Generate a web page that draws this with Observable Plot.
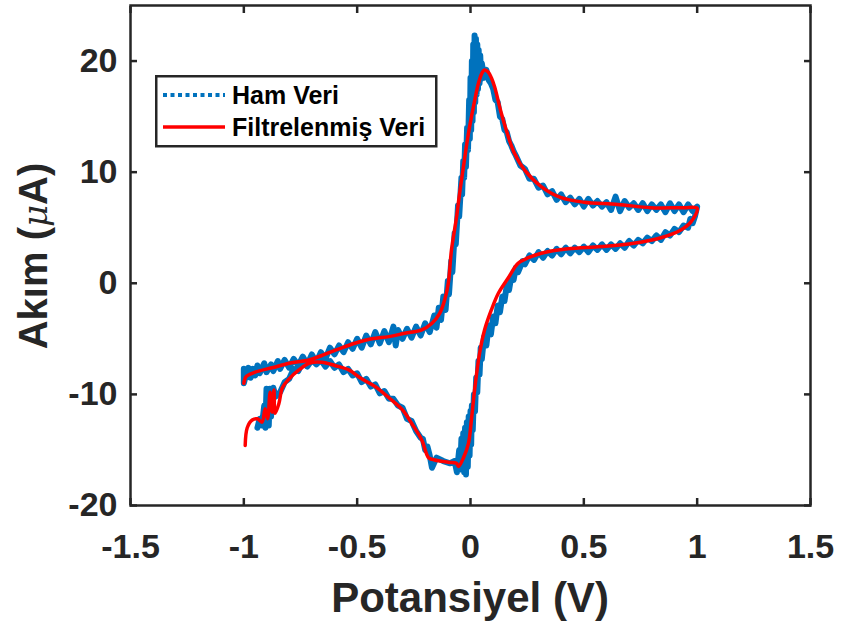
<!DOCTYPE html>
<html><head><meta charset="utf-8">
<script src="https://cdn.jsdelivr.net/npm/d3@7"></script>
<script src="https://cdn.jsdelivr.net/npm/@observablehq/plot@0.6"></script>
<style>
body{margin:0;background:#fff;}
#wrap{position:relative;width:845px;height:626px;}
#legend{position:absolute;left:155px;top:75px;}
</style></head><body><div id="wrap"><div id="legend"></div></div>
<script>
// Raw (noisy) data, in sweep order: potential (V) and current (µA)
const rawForwardV = [-1.00,-1.00,-0.99,-0.98,-0.97,-0.96,-0.95,-0.94,-0.93,-0.91,-0.90,-0.88,-0.87,-0.85,-0.84,-0.82,-0.80,-0.78,-0.76,-0.74,-0.72,-0.70,-0.68,-0.66,-0.64,-0.62,-0.60,-0.58,-0.56,-0.54,-0.52,-0.50,-0.48,-0.46,-0.44,-0.42,-0.40,-0.38,-0.36,-0.34,-0.33,-0.32,-0.30,-0.28,-0.26,-0.24,-0.22,-0.20,-0.18,-0.16,-0.15,-0.14,-0.13,-0.12,-0.11,-0.10,-0.095,-0.085,-0.08,-0.07,-0.065,-0.055,-0.05];
const rawForwardI = [-7.7,-9.0,-8.2,-7.6,-8.5,-7.7,-8.3,-7.4,-8.1,-7.2,-8.0,-7.3,-7.9,-7.0,-7.7,-6.9,-7.6,-6.8,-7.4,-6.6,-7.3,-6.4,-7.1,-6.2,-6.8,-5.8,-6.4,-5.6,-6.2,-5.3,-5.9,-5.0,-5.8,-4.7,-5.5,-4.4,-5.4,-4.3,-5.3,-3.9,-5.6,-4.2,-5.0,-4.1,-4.9,-3.9,-4.7,-3.6,-4.4,-2.9,-4.0,-2.2,-3.3,-1.2,-2.4,0.2,-1.0,2.0,1.0,4.5,3.5,7.0,6.0];
const rawAnodicV = [-0.04,-0.037,-0.032,-0.028,-0.024,-0.02,-0.015,-0.011,-0.006,-0.003,0.0,0.003,0.006,0.009,0.012,0.015,0.018,0.021,0.024,0.027,0.03,0.033,0.036,0.04,0.043,0.047,0.05,0.06];
const rawAnodicI = [9.5,8.0,11.0,9.5,12.5,10.5,14.0,12.0,16.5,13.0,18.5,13.8,20.0,14.6,21.5,15.4,22.3,16.3,22.0,17.0,21.5,17.5,21.0,18.0,20.5,18.4,19.8,18.5];
const rawDecayV = [0.07,0.08,0.09,0.10,0.11,0.12,0.13,0.14,0.15,0.16,0.17,0.18,0.19,0.20,0.22,0.24,0.26,0.28,0.30,0.32,0.34,0.36,0.38,0.40,0.42,0.44,0.46,0.48,0.50,0.52,0.54,0.56,0.58,0.60,0.62,0.64,0.66,0.68,0.70,0.72,0.74,0.76,0.78,0.80,0.82,0.84,0.86,0.88,0.90,0.92,0.94,0.96,0.98,1.00];
const rawDecayI = [19.2,18.3,18.0,17.5,16.5,16.3,15.0,14.8,13.8,13.6,12.8,12.4,11.9,11.5,10.6,10.3,9.4,9.4,8.6,8.8,8.0,8.3,7.5,8.0,7.3,7.7,7.1,7.6,6.9,7.6,7.0,7.4,6.9,7.3,6.6,7.8,6.5,7.4,6.8,7.2,6.6,7.2,6.5,7.1,6.6,7.1,6.4,7.2,6.5,7.1,6.4,7.1,6.5,6.9];
const rawReverseV = [0.99,0.98,0.97,0.96,0.94,0.92,0.90,0.88,0.86,0.84,0.82,0.80,0.78,0.76,0.74,0.72,0.70,0.68,0.66,0.64,0.62,0.60,0.58,0.56,0.54,0.52,0.50,0.48,0.46,0.44,0.42,0.40,0.38,0.36,0.34,0.32,0.30,0.28,0.26,0.24,0.23,0.21,0.20,0.19,0.18,0.17,0.16,0.15,0.14,0.13,0.12,0.11,0.10,0.09,0.08,0.07,0.06,0.05,0.045,0.04,0.035,0.03,0.025,0.02,0.015];
const rawReverseI = [6.0,5.4,5.8,5.0,5.2,4.6,4.9,4.3,4.6,3.9,4.3,3.8,4.1,3.6,3.9,3.4,3.8,3.2,3.6,3.1,3.5,3.0,3.5,3.0,3.4,2.8,3.3,2.8,3.2,2.7,3.2,2.6,3.1,2.5,2.9,2.3,2.8,2.1,2.5,1.7,2.0,1.0,1.4,0.3,0.6,-0.6,-0.2,-1.6,-1.2,-2.6,-2.0,-3.6,-3.0,-4.6,-3.8,-5.6,-4.8,-6.8,-5.8,-8.2,-7.0,-9.8,-8.5,-11.5,-10.0];
const rawCathodicV = [0.01,0.006,0.003,0.0,-0.004,-0.008,-0.012,-0.016,-0.02,-0.024,-0.028,-0.032,-0.036,-0.04,-0.045,-0.05,-0.06,-0.07];
const rawCathodicI = [-13.2,-11.0,-14.5,-11.5,-15.5,-12.0,-16.5,-12.5,-17.2,-13.0,-17.0,-13.5,-16.8,-14.0,-16.5,-15.0,-17.0,-16.0];
const rawTailV = [-0.09,-0.12,-0.15,-0.17,-0.18,-0.19,-0.20,-0.21,-0.22,-0.24,-0.26,-0.28,-0.30,-0.32,-0.34,-0.36,-0.38,-0.40,-0.42,-0.44,-0.46,-0.48,-0.50,-0.52,-0.54,-0.56,-0.58,-0.60,-0.62,-0.64,-0.66,-0.68,-0.70,-0.72,-0.74,-0.76,-0.78,-0.80,-0.82,-0.84,-0.86,-0.87,-0.88,-0.885,-0.89,-0.90,-0.905,-0.91,-0.92,-0.93,-0.94];
const rawTailI = [-16.2,-16.0,-15.7,-16.6,-15.5,-14.7,-15.0,-14.0,-13.9,-13.3,-12.4,-12.2,-11.2,-11.0,-10.4,-10.4,-9.7,-9.9,-9.1,-9.3,-8.6,-8.9,-8.1,-8.3,-7.7,-8.0,-7.3,-7.6,-7.0,-7.5,-6.9,-7.3,-6.9,-7.5,-7.1,-7.9,-7.7,-8.6,-8.9,-9.8,-10.2,-9.4,-12.0,-9.5,-12.8,-9.5,-13.0,-11.0,-12.8,-12.2,-13.0];

// Filtered data, in sweep order
const filtV = [-1.0,-0.99,-0.95,-0.875,-0.80,-0.713,-0.656,-0.58,-0.51,-0.435,-0.36,-0.29,-0.215,-0.17,-0.136,-0.114,-0.098,-0.084,-0.062,-0.048,-0.031,-0.009,0.013,0.035,0.05,0.062,0.079,0.092,0.106,0.136,0.167,0.194,0.238,0.312,0.40,0.50,0.65,0.796,0.94,1.0,0.972,0.928,0.84,0.72,0.576,0.43,0.312,0.255,0.21,0.167,0.123,0.092,0.062,0.04,0.018,0.004,-0.009,-0.031,-0.053,-0.062,-0.097,-0.158,-0.185,-0.215,-0.26,-0.30,-0.36,-0.42,-0.48,-0.537,-0.598,-0.656,-0.713,-0.757,-0.80,-0.83,-0.845,-0.862,-0.867,-0.875,-0.884,-0.895,-0.906,-0.92,-0.94,-0.963,-0.985,-0.994];
const filtI = [-9.0,-8.4,-8.0,-7.6,-7.2,-6.9,-6.5,-5.9,-5.4,-5.0,-4.8,-4.5,-4.2,-3.6,-2.7,-1.5,0.0,3.0,5.9,8.1,10.5,13.5,15.9,18.0,18.9,19.2,19.0,18.5,17.7,15.3,13.2,11.7,10.2,8.7,7.7,7.3,7.1,6.8,6.8,6.75,5.5,4.8,4.1,3.6,3.3,3.1,2.7,2.3,1.8,0.5,-0.9,-2.4,-4.2,-6.3,-9.6,-12.3,-14.4,-15.7,-16.5,-16.2,-16.1,-15.9,-15.7,-14.1,-12.6,-11.4,-10.3,-9.3,-8.6,-7.8,-7.4,-7.1,-7.2,-7.8,-8.6,-9.4,-10.8,-11.7,-9.6,-11.6,-9.8,-12.2,-11.3,-12.5,-12.2,-12.3,-13.0,-14.6];

const xTicks = [-1.5,-1,-0.5,0,0.5,1,1.5];
const xTickLabels = ["-1.5","-1","-0.5","0","0.5","1","1.5"];
const yTicks = [-20,-10,0,10,20];
const yTickLabels = ["-20","-10","0","10","20"];
const seriesNames = ["Ham Veri","Filtrelenmiş Veri"];
const seriesColors = ["#0072BD","#FF0000"];
const xLabel = "Potansiyel (V)";
const yLabelPre = "Akım (", yLabelMu = "μ", yLabelPost = "A)";

const rawV = [].concat(rawForwardV, rawAnodicV, rawDecayV, rawReverseV, rawCathodicV, rawTailV);
const rawI = [].concat(rawForwardI, rawAnodicI, rawDecayI, rawReverseI, rawCathodicI, rawTailI);
const raw = rawV.map((v, k) => ({v, i: rawI[k]}));
const filt = filtV.map((v, k) => ({v, i: filtI[k]}));
const FONT = '"Liberation Sans", Arial, sans-serif';
const INK = "#262626";

const chart = Plot.plot({
  width: 845, height: 626,
  marginLeft: 130, marginRight: 35, marginTop: 5, marginBottom: 121,
  style: {fontFamily: FONT, fontWeight: "bold", color: INK, background: "#fff"},
  x: {domain: [-1.5, 1.5]},
  y: {domain: [-20, 25]},
  marks: [
    Plot.line(raw, {x: "v", y: "i", stroke: seriesColors[0], strokeWidth: 6, strokeLinejoin: "round"}),
    Plot.line(filt, {x: "v", y: "i", stroke: seriesColors[1], strokeWidth: 3.5, strokeLinejoin: "round", curve: "catmull-rom"}),
    Plot.axisX(xTicks, {anchor: "bottom", tickSize: -7, tickPadding: 35, strokeWidth: 2.5,
      tickFormat: d => xTickLabels[xTicks.indexOf(d)], fontSize: 34, label: null}),
    Plot.axisX(xTicks, {anchor: "top", tickSize: -7, strokeWidth: 2.5, tickFormat: () => "", label: null}),
    Plot.axisY(yTicks, {anchor: "left", tickSize: -7, tickPadding: 20, strokeWidth: 2.5,
      tickFormat: d => yTickLabels[yTicks.indexOf(d)], fontSize: 34, label: null}),
    Plot.axisY(yTicks, {anchor: "right", tickSize: -7, strokeWidth: 2.5, tickFormat: () => "", label: null}),
    Plot.frame({stroke: INK, strokeWidth: 2.5})
  ]
});
document.getElementById("wrap").prepend(chart);

const svg = d3.select(chart);
svg.append("text")
  .attr("x", 470).attr("y", 612).attr("text-anchor", "middle")
  .attr("font-family", FONT).attr("font-weight", "bold").attr("font-size", 42).attr("fill", INK)
  .text(xLabel);
const yl = svg.append("text")
  .attr("transform", "translate(47,256) rotate(-90)").attr("text-anchor", "middle")
  .attr("font-family", FONT).attr("font-weight", "bold").attr("font-size", 40).attr("fill", INK);
yl.append("tspan").text(yLabelPre);
yl.append("tspan").attr("font-family", '"DejaVu Serif", serif').attr("font-style", "italic").attr("font-weight", "normal").attr("font-size", 34).text(yLabelMu);
yl.append("tspan").text(yLabelPost);

// Legend
const lg = d3.select("#legend").append("svg").attr("width", 283).attr("height", 73)
  .style("font-family", FONT).style("font-weight", "bold");
lg.append("rect").attr("x", 1.25).attr("y", 1.25).attr("width", 280).attr("height", 70)
  .attr("fill", "#fff").attr("stroke", INK).attr("stroke-width", 2.5);
seriesNames.forEach((name, k) => {
  const cy = 20 + k * 32;
  lg.append("line").attr("x1", 8).attr("x2", 70).attr("y1", cy).attr("y2", cy)
    .attr("stroke", seriesColors[k]).attr("stroke-width", k === 0 ? 4 : 3.5)
    .attr("stroke-dasharray", k === 0 ? "4,3.5" : null);
  lg.append("text").attr("x", 77).attr("y", cy + 9).attr("font-size", 25).attr("fill", "#000").text(name);
});
</script></body></html>
